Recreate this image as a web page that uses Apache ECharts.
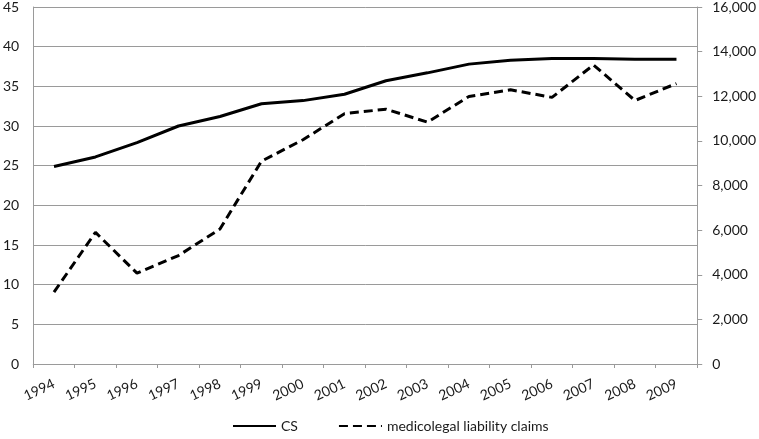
<!DOCTYPE html>
<html>
<head>
<meta charset="utf-8">
<script src="https://cdn.jsdelivr.net/npm/echarts@6/dist/echarts.min.js"></script>
<style>
  html, body { margin: 0; padding: 0; background: #fff; }
  #chart { width: 759px; height: 439px; }
</style>
</head>
<body>
<div id="chart"></div>
<script>
// data
const years = ['1994', '1995', '1996', '1997', '1998', '1999', '2000', '2001',
  '2002', '2003', '2004', '2005', '2006', '2007', '2008', '2009'];
const csRate = [24.9, 26.1, 27.9, 30.0, 31.2, 32.8, 33.2, 34.0,
  35.7, 36.7, 37.8, 38.3, 38.5, 38.5, 38.4, 38.4];
const claims = [3220, 5900, 4070, 4860, 6050, 9090, 10050, 11220,
  11420, 10840, 11990, 12290, 11950, 13400, 11810, 12570];

const font = 'Lato';
const gray = '#9a9a9a';
const textColor = '#1a1a1a';

const chart = echarts.init(document.getElementById('chart'));

chart.setOption({
  animation: false,
  grid: { left: 32, right: 61, top: 5, bottom: 75 },
  legend: {
    bottom: 1,
    left: 227,
    itemWidth: 43,
    itemGap: 40,
    itemStyle: { opacity: 0 },
    textStyle: { fontFamily: font, fontSize: 14, color: textColor },
    data: ['CS', 'medicolegal liability claims']
  },
  xAxis: {
    type: 'category',
    data: years,
    boundaryGap: true,
    axisLine: { lineStyle: { color: gray } },
    axisTick: { show: true, length: 4, lineStyle: { color: gray } },
    axisLabel: {
      interval: 0, rotate: 25, fontFamily: font, fontSize: 14,
      color: textColor, margin: 19
    }
  },
  yAxis: [
    {
      type: 'value',
      min: 0, max: 45, interval: 5,
      axisLine: { show: true, lineStyle: { color: gray } },
      axisTick: { show: false },
      splitLine: { lineStyle: { color: gray, width: 1 } },
      axisLabel: { fontFamily: font, fontSize: 14, color: textColor, margin: 14 }
    },
    {
      type: 'value',
      min: 0, max: 16000, interval: 2000,
      position: 'right',
      axisLine: { show: true, lineStyle: { color: gray } },
      axisTick: { show: true, length: 5, lineStyle: { color: gray } },
      splitLine: { show: false },
      axisLabel: {
        fontFamily: font, fontSize: 14, color: textColor, margin: 15,
        formatter: v => v.toLocaleString('en-US')
      }
    }
  ],
  series: [
    {
      name: 'CS',
      type: 'line',
      data: csRate,
      yAxisIndex: 0,
      symbol: 'none',
      lineStyle: { color: '#000', width: 3, type: 'solid' },
      itemStyle: { color: '#000' }
    },
    {
      name: 'medicolegal liability claims',
      type: 'line',
      data: claims,
      yAxisIndex: 1,
      symbol: 'none',
      lineStyle: { color: '#000', width: 3, type: [9, 5] },
      itemStyle: { color: '#000' }
    }
  ]
});
</script>
</body>
</html>
